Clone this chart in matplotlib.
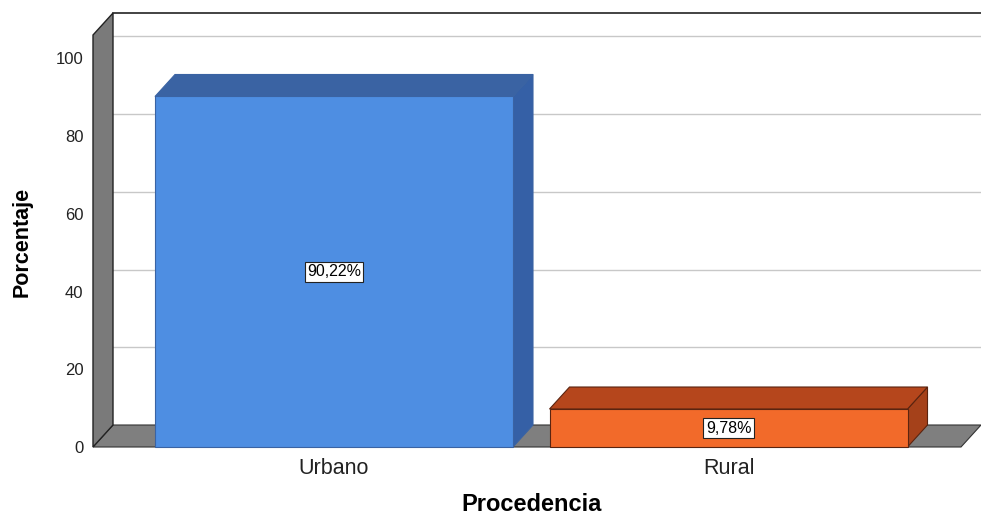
import numpy as np
import matplotlib.pyplot as plt
from matplotlib.patches import Polygon, Rectangle

plt.rcParams['font.family'] = ['Liberation Sans', 'DejaVu Sans']

categorias = ['Urbano', 'Rural']
porcentajes = [90.22, 9.78]
etiquetas = ['90,22%', '9,78%']
yticks = [0, 20, 40, 60, 80, 100]

front = ['#4E8EE2', '#F26A2A']
top = ['#3A63A3', '#B5461C']
side = ['#3560A6', '#A5411A']
edge = ['#3A63A3', '#5a2410']

W, H = 981, 515
fig = plt.figure(figsize=(W / 100, H / 100), dpi=100)
fig.patch.set_facecolor('white')

# front plane of the box in pixels
px_l, px_r, px_b, px_t = 93, 961, 447, 35
ax = fig.add_axes([px_l / W, (H - px_b) / H, (px_r - px_l) / W, (px_b - px_t) / H])
ax.patch.set_visible(False)

xpx = 394.0          # px per category
ypx = 3.885          # px per percent
xmin = (px_l - 334) / xpx
xmax = (px_r - 334) / xpx
ymax = (px_b - px_t) / ypx
ax.set_xlim(xmin, xmax)
ax.set_ylim(0, ymax)

dx = 20 / xpx        # depth offset
dy = 22 / ypx
bw = 358 / xpx
x = np.arange(len(categorias)) + np.array([0, 0.0013])

# back wall
ax.add_patch(Polygon([(xmin + dx, dy), (xmax + dx, dy), (xmax + dx, ymax + dy), (xmin + dx, ymax + dy)],
                     closed=True, fc='white', ec='none', clip_on=False, zorder=0))
for t in yticks[1:]:
    ax.plot([xmin + dx, xmax + dx], [t + dy, t + dy], color='#c8c8c8', lw=1, clip_on=False, zorder=1)
ax.plot([xmin + dx, xmax + dx], [ymax + dy, ymax + dy], color='#222222', lw=1.2, clip_on=False, zorder=1)

# floor
ax.add_patch(Polygon([(xmin, 0), (xmax, 0), (xmax + dx, dy), (xmin + dx, dy)],
                     closed=True, fc='#7f7f7f', ec='#333333', lw=0.8, clip_on=False, zorder=2))
# left wall
ax.add_patch(Polygon([(xmin, 0), (xmin, ymax), (xmin + dx, ymax + dy), (xmin + dx, dy)],
                     closed=True, fc='#7a7a7a', ec='#222222', lw=1.0, clip_on=False, zorder=3))

# bars
for i, v in enumerate(porcentajes):
    l, r = x[i] - bw / 2, x[i] + bw / 2
    ax.add_patch(Polygon([(r, 0), (r, v), (r + dx, v + dy), (r + dx, dy)],
                         closed=True, fc=side[i], ec=edge[i], lw=0.8, clip_on=False, zorder=4))
    ax.add_patch(Polygon([(l, v), (r, v), (r + dx, v + dy), (l + dx, v + dy)],
                         closed=True, fc=top[i], ec=edge[i], lw=0.8, clip_on=False, zorder=4))
    ax.add_patch(Rectangle((l, 0), bw, v, fc=front[i], ec=edge[i], lw=0.8, clip_on=False, zorder=5))
    ax.text(x[i], v / 2, etiquetas[i], ha='center', va='center', fontsize=11.5, zorder=6,
            bbox=dict(boxstyle='square,pad=0.15', fc='white', ec='#222222', lw=0.8))

ax.set_yticks(yticks)
ax.set_yticklabels([str(t) for t in yticks], fontsize=12, color='#222222')
ax.set_xticks(x)
ax.set_xticklabels(categorias, fontsize=15.5, color='#222222')
ax.tick_params(axis='y', length=0, pad=7)
ax.tick_params(axis='x', length=0, pad=8)
for s in ax.spines.values():
    s.set_visible(False)

fig.text(22 / W, 1 - 242 / H, 'Porcentaje', rotation=90, ha='center', va='center',
         fontsize=15.5, fontweight='bold')
fig.text(532 / W, (H - 511) / H, 'Procedencia', ha='center', va='baseline',
         fontsize=17, fontweight='bold')

fig.savefig('out.png', dpi=100)
